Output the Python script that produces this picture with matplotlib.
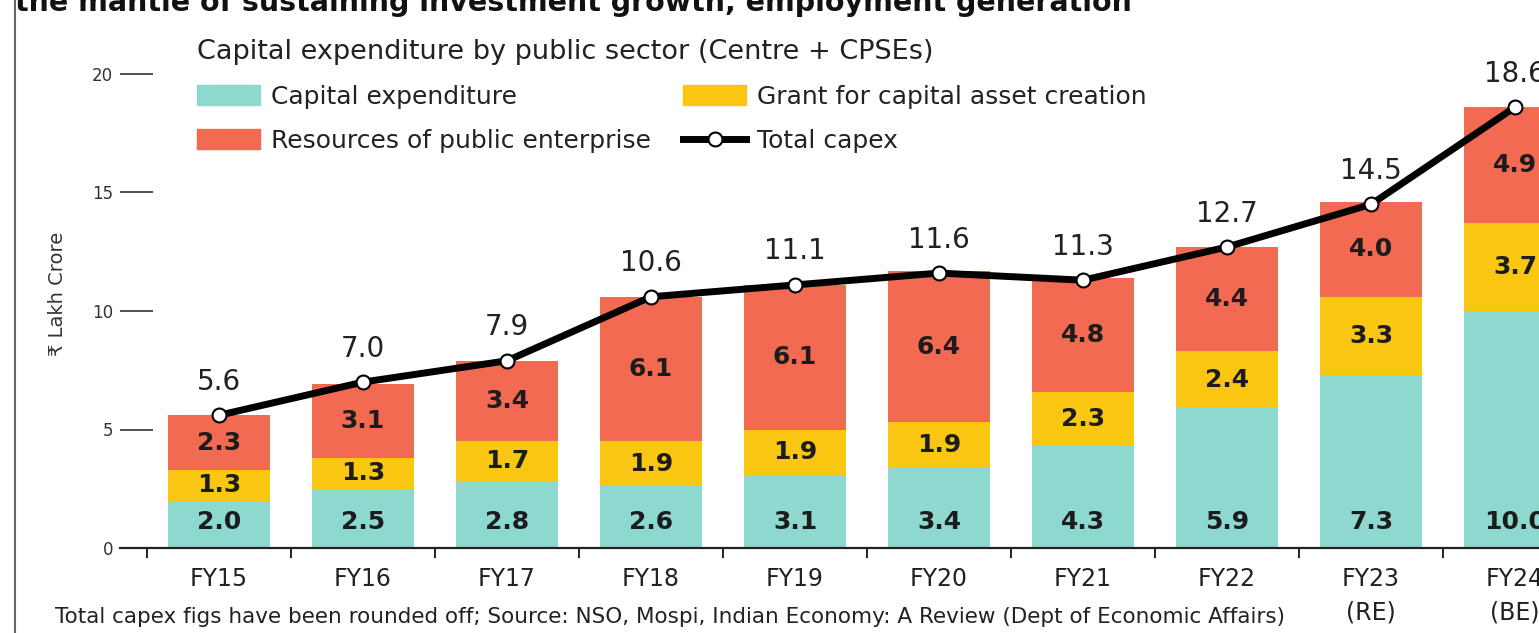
import numpy as np
import matplotlib
matplotlib.use("Agg")
import matplotlib.pyplot as plt
from matplotlib.patches import Patch
from matplotlib.lines import Line2D

years = ["FY15", "FY16", "FY17", "FY18", "FY19", "FY20", "FY21", "FY22", "FY23\n(RE)", "FY24\n(BE)"]
capex = [2.0, 2.5, 2.8, 2.6, 3.1, 3.4, 4.3, 5.9, 7.3, 10.0]
grant = [1.3, 1.3, 1.7, 1.9, 1.9, 1.9, 2.3, 2.4, 3.3, 3.7]
resources = [2.3, 3.1, 3.4, 6.1, 6.1, 6.4, 4.8, 4.4, 4.0, 4.9]
total = [5.6, 7.0, 7.9, 10.6, 11.1, 11.6, 11.3, 12.7, 14.5, 18.6]

teal = "#8dd8cf"
yellow = "#f9c712"
red = "#f26a52"
dark = "#1c1c1c"

plt.rcParams['font.family'] = ['DejaVu Sans']

W, H = 1539, 633
fig = plt.figure(figsize=(W / 100, H / 100), dpi=100)

# axes placed in pixel terms so that the last bar runs off the right edge
left_px, right_px, base_px, top_px = 120, 1539, 548, 40
ax = fig.add_axes([left_px / W, (H - base_px) / H, (right_px - left_px) / W, (base_px - top_px) / H])

x = np.arange(len(years))
bw = 0.71
capex_a = np.array(capex)
grant_a = np.array(grant)
res_a = np.array(resources)

ax.bar(x, capex_a, bw, color=teal, zorder=2)
ax.bar(x, grant_a, bw, bottom=capex_a, color=yellow, zorder=2)
ax.bar(x, res_a, bw, bottom=capex_a + grant_a, color=red, zorder=2)
ax.plot(x, total, color="black", lw=5, marker="o", ms=10, mfc="white", mec="black",
        mew=1.5, zorder=4, solid_capstyle="round")

for i in range(len(x)):
    ax.text(x[i], 1.1, f"{capex[i]:.1f}", ha="center", va="center", fontsize=18,
            fontweight="bold", color=dark, zorder=5)
    ax.text(x[i], capex[i] + grant[i] / 2, f"{grant[i]:.1f}", ha="center", va="center",
            fontsize=18, fontweight="bold", color=dark, zorder=5)
    ax.text(x[i], capex[i] + grant[i] + resources[i] / 2, f"{resources[i]:.1f}", ha="center",
            va="center", fontsize=18, fontweight="bold", color=dark, zorder=5)
    ax.annotate(f"{total[i]:.1f}", (x[i], total[i]), xytext=(0, 14), textcoords="offset points",
                ha="center", va="bottom", fontsize=20, color="#222222", zorder=5)

ax.set_yticks([0, 5, 10, 15, 20])
ax.tick_params(axis="y", direction="in", length=24, width=1.2, color="#333333",
               labelsize=12, labelcolor="#333333", pad=5)
ax.set_xticks(x, years)
for lab in ax.get_xticklabels():
    lab.set_linespacing(1.5)
ax.set_xticks(np.r_[-0.5, x + 0.5], minor=True)
ax.tick_params(axis="x", which="major", length=0, labelsize=17, labelcolor="#222222", pad=14)
ax.tick_params(axis="x", which="minor", length=7, width=1.4, color="#222222")
ax.set_ylabel("₹ Lakh Crore", fontsize=14, color="#333333", labelpad=18)

step = 144
ax.set_xlim((left_px - 219) / step, (right_px - 219) / step)
ax.set_ylim(0, (base_px - top_px) / 23.7)

for s in ["top", "right", "left"]:
    ax.spines[s].set_visible(False)
ax.spines["bottom"].set_linewidth(1.6)
ax.spines["bottom"].set_color("#222222")

handles = [Patch(color=teal), Patch(color=red), Patch(color=yellow),
           Line2D([], [], color="black", lw=5, marker="o", ms=10, mfc="white", mec="black", mew=1.5)]
labels = ["Capital expenditure", "Resources of public enterprise",
          "Grant for capital asset creation", "Total capex"]
leg = ax.legend(handles, labels, ncol=2, frameon=False, fontsize=18,
                title="Capital expenditure by public sector (Centre + CPSEs)", title_fontsize=19.5,
                alignment="left", handlelength=2.5, handleheight=0.85, handletextpad=0.45,
                columnspacing=1.3, labelspacing=0.8, numpoints=1,
                loc="upper left", bbox_to_anchor=(197 / W, 1 - 39 / H), bbox_transform=fig.transFigure,
                borderaxespad=0, borderpad=0)
for t in leg.get_texts():
    t.set_color("#222222")
leg.get_title().set_color("#222222")

fig.text(15 / W, 1 - 11 / H, "the mantle of sustaining investment growth, employment generation",
         fontsize=20.5, fontweight="bold", ha="left", va="baseline", color="#111111")
fig.text(55 / W, 1 - 617 / H,
         "Total capex figs have been rounded off; Source: NSO, Mospi, Indian Economy: A Review (Dept of Economic Affairs)",
         fontsize=15.5, ha="left", va="center", color="#222222")
fig.add_artist(Line2D([15 / W, 15 / W], [0, 1], color="#666666", lw=1.5, transform=fig.transFigure))

fig.savefig("out.png", dpi=100)
